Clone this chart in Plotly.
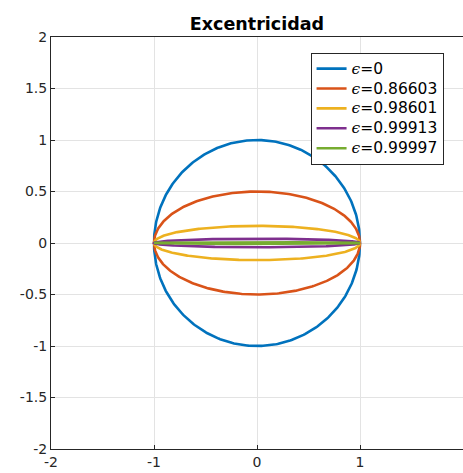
import numpy as np
import plotly.graph_objects as go

# semi-axes of each ellipse (a = 1 horizontal, b vertical) and legend labels
semi_major = [1.0, 1.0, 1.0, 1.0, 1.0]
semi_minor = [1.0, 0.5, 0.16667, 0.041667, 0.0083333]
ecc_labels = ["0", "0.86603", "0.98601", "0.99913", "0.99997"]
colors = ["#0072BD", "#D95319", "#EDB120", "#7E2F8E", "#77AC30"]
x_ticks = [-2, -1, 0, 1, 2]
x_ticktext = ["-2", "-1", "0", "1", "2"]
y_ticks = [-2, -1.5, -1, -0.5, 0, 0.5, 1, 1.5, 2]
y_ticktext = ["-2", "-1.5", "-1", "-0.5", "0", "0.5", "1", "1.5", "2"]

t = np.linspace(0, 2 * np.pi, 400)

fig = go.Figure()
for a, b, lab, c in zip(semi_major, semi_minor, ecc_labels, colors):
    name = ('<span style="font-size:15.5px"><span style="font-family:DejaVu Serif">'
            '<i>ϵ</i></span>=' + lab + '</span>')
    fig.add_trace(go.Scatter(x=a * np.cos(t), y=b * np.sin(t), mode="lines",
                             name=name, line=dict(color=c, width=2.6)))

axis_common = dict(showgrid=True, gridcolor="#e3e3e3", gridwidth=1,
                   zeroline=False, showline=True, linecolor="#262626",
                   linewidth=1, mirror=True, ticks="inside", ticklen=4,
                   tickcolor="#262626",
                   tickfont=dict(family="DejaVu Sans", size=14, color="#262626"))

fig.update_layout(
    width=463, height=473,
    margin=dict(l=51, r=0, t=37, b=24),
    paper_bgcolor="white", plot_bgcolor="white",
    title=dict(text="<b>Excentricidad</b>", x=0.555, xanchor="center",
               y=0.949, yanchor="middle",
               font=dict(family="DejaVu Sans", size=17.5, color="black")),
    xaxis=dict(range=[-2, 2], tickvals=x_ticks, ticktext=x_ticktext, **axis_common),
    yaxis=dict(range=[-2, 2], tickvals=y_ticks, ticktext=y_ticktext, **axis_common),
    legend=dict(x=0.63, y=0.962, xanchor="left", yanchor="top",
                bordercolor="#262626", borderwidth=1, bgcolor="white",
                font=dict(family="DejaVu Sans", size=13, color="black"),
                tracegroupgap=0, itemwidth=30),
    showlegend=True,
)

fig.write_html("out.html")
